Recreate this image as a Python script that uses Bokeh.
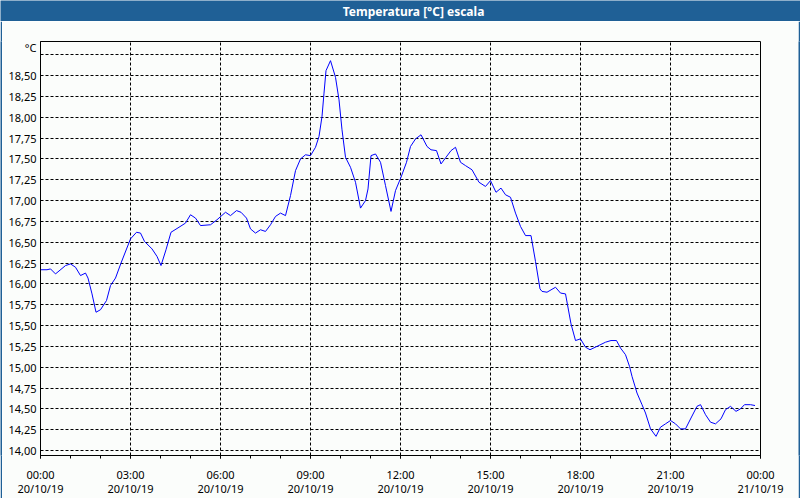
from bokeh.plotting import figure
from bokeh.layouts import column, row
from bokeh.models import FixedTicker, Range1d, Label
from bokeh.embed import file_html
from bokeh.resources import INLINE

# --- data (minutes after 00:00 20/10/19, temperature in °C) ---
minutes = [0, 13, 20, 30, 50, 60, 70, 80, 90, 95, 103, 111, 120, 132, 140, 150, 161,
           180, 192, 200, 208, 223, 233, 241, 251, 261, 277, 290, 300, 310, 320, 340,
           353, 370, 380, 392, 401, 412, 420, 430, 440, 450, 460, 470, 480, 490, 500,
           510, 520, 530, 540, 550, 557, 563, 567, 571, 580, 590, 597, 603, 610, 620,
           630, 640, 650, 655, 661, 670, 680, 690, 701, 710, 721, 732, 740, 750, 761,
           773, 781, 792, 801, 811, 821, 830, 840, 850, 863, 877, 890, 900, 911, 921,
           930, 940, 950, 960, 970, 981, 990, 999, 1003, 1013, 1030, 1040, 1050, 1061,
           1070, 1080, 1090, 1099, 1113, 1130, 1141, 1152, 1160, 1170, 1178, 1183, 1193,
           1203, 1210, 1220, 1231, 1240, 1250, 1260, 1270, 1280, 1290, 1301, 1313, 1320,
           1330, 1340, 1350, 1361, 1370, 1380, 1391, 1400, 1408, 1420, 1429]
temps = [16.17, 16.17, 16.18, 16.12, 16.22, 16.24, 16.20, 16.10, 16.13, 16.07, 15.88, 15.66,
         15.69, 15.80, 15.98, 16.07, 16.25, 16.54, 16.62, 16.61, 16.51, 16.42, 16.33, 16.22,
         16.41, 16.62, 16.68, 16.73, 16.83, 16.79, 16.70, 16.71, 16.77, 16.86, 16.82, 16.88,
         16.86, 16.79, 16.66, 16.61, 16.65, 16.63, 16.71, 16.81, 16.85, 16.82, 17.06, 17.36,
         17.50, 17.55, 17.54, 17.64, 17.77, 18.01, 18.29, 18.56, 18.68, 18.48, 18.21, 17.85,
         17.52, 17.40, 17.22, 16.91, 17.00, 17.14, 17.54, 17.56, 17.46, 17.18, 16.87, 17.12,
         17.28, 17.46, 17.65, 17.74, 17.79, 17.65, 17.61, 17.60, 17.44, 17.52, 17.60, 17.64,
         17.46, 17.42, 17.37, 17.22, 17.17, 17.24, 17.10, 17.15, 17.07, 17.04, 16.85, 16.69,
         16.58, 16.58, 16.27, 15.94, 15.91, 15.90, 15.96, 15.89, 15.88, 15.52, 15.32, 15.34,
         15.24, 15.21, 15.25, 15.30, 15.32, 15.32, 15.23, 15.15, 15.01, 14.89, 14.69, 14.55,
         14.45, 14.26, 14.17, 14.28, 14.32, 14.36, 14.32, 14.26, 14.26, 14.39, 14.53, 14.55,
         14.43, 14.34, 14.32, 14.38, 14.49, 14.53, 14.47, 14.50, 14.55, 14.55, 14.54]

x_ticks = [0, 3, 6, 9, 12, 15, 18, 21, 24]
x_tick_labels = ["00:00\n20/10/19", "03:00\n20/10/19", "06:00\n20/10/19", "09:00\n20/10/19",
                 "12:00\n20/10/19", "15:00\n20/10/19", "18:00\n20/10/19", "21:00\n20/10/19",
                 "00:00\n21/10/19"]
y_ticks = [14.00, 14.25, 14.50, 14.75, 15.00, 15.25, 15.50, 15.75, 16.00, 16.25, 16.50,
           16.75, 17.00, 17.25, 17.50, 17.75, 18.00, 18.25, 18.50, 18.75]
y_tick_labels = ["14,00", "14,25", "14,50", "14,75", "15,00", "15,25", "15,50", "15,75",
                 "16,00", "16,25", "16,50", "16,75", "17,00", "17,25", "17,50", "17,75",
                 "18,00", "18,25", "18,50", ""]

title_text = "Temperatura [°C] escala"
unit_text = "°C"
unit_pos = 18.84  # where the unit text sits on the y axis

BLUE_BAR = "#1F6096"
BG = "#FBFDFB"
FONT = "Noto Sans"

hours = [m / 60 for m in minutes]


def bare(w, h):
    f = figure(width=w, height=h, output_backend="svg", toolbar_location=None,
               x_range=Range1d(0, 1), y_range=Range1d(0, 1),
               min_border=0, min_border_left=0, min_border_right=0,
               min_border_top=0, min_border_bottom=0)
    f.axis.visible = False
    f.grid.visible = False
    f.outline_line_color = None
    f.background_fill_color = BLUE_BAR
    f.border_fill_color = BLUE_BAR
    return f


# title bar
tb = bare(800, 21)
tb.add_layout(Label(x=413, y=10.5, x_units="screen", y_units="screen", text=title_text,
                    text_align="center", text_baseline="middle", text_color="white",
                    text_font=FONT, text_font_style="bold", text_font_size="12px"))

# main chart
p = figure(width=796, height=477, output_backend="svg", toolbar_location=None,
           x_range=Range1d(0, 24), y_range=Range1d(13.94, 18.91),
           min_border_left=38, min_border_right=38, min_border_top=20, min_border_bottom=38)
p.background_fill_color = BG
p.border_fill_color = BG
p.outline_line_color = "black"
p.outline_line_width = 1
p.outline_line_alpha = 1

p.line(hours, temps, line_color="#0000FF", line_width=1)

# x axis
xa = p.xaxis[0]
xa.ticker = FixedTicker(ticks=x_ticks, minor_ticks=list(range(25)))
xa.major_label_overrides = {t: l for t, l in zip(x_ticks, x_tick_labels)}
xa.axis_line_color = "black"
xa.major_tick_out = 3
xa.major_tick_in = 0
xa.minor_tick_out = 3
xa.minor_tick_in = 0
xa.major_tick_line_color = "black"
xa.minor_tick_line_color = "black"
xa.major_label_standoff = 8
xa.major_label_text_font = FONT
xa.major_label_text_font_size = "11px"
xa.major_label_text_color = "black"
xa.major_label_text_line_height = 0.95

# y axis (the unit text is shown as a label near the top of the axis)
ya = p.yaxis[0]
ya.ticker = FixedTicker(ticks=y_ticks + [unit_pos], minor_ticks=[])
overrides = {t: l for t, l in zip(y_ticks, y_tick_labels)}
overrides[unit_pos] = unit_text
ya.major_label_overrides = overrides
ya.axis_line_color = "black"
ya.major_tick_out = 0
ya.major_tick_in = 0
ya.minor_tick_out = 0
ya.major_label_standoff = 4
ya.major_label_text_font = FONT
ya.major_label_text_font_size = "11px"
ya.major_label_text_color = "black"

# grids
p.xgrid.ticker = FixedTicker(ticks=x_ticks[1:-1])
p.ygrid.ticker = FixedTicker(ticks=y_ticks)
for g in (p.xgrid[0], p.ygrid[0]):
    g.grid_line_color = "black"
    g.grid_line_dash = "3 2"
    g.grid_line_width = 1
    g.grid_line_alpha = 1

left_edge = bare(2, 477)
right_edge = bare(2, 477)
bottom_edge = bare(800, 2)

layout = column(tb, row(left_edge, p, right_edge, spacing=0), bottom_edge, spacing=0)

open("out.html", "w").write(file_html(layout, INLINE))
